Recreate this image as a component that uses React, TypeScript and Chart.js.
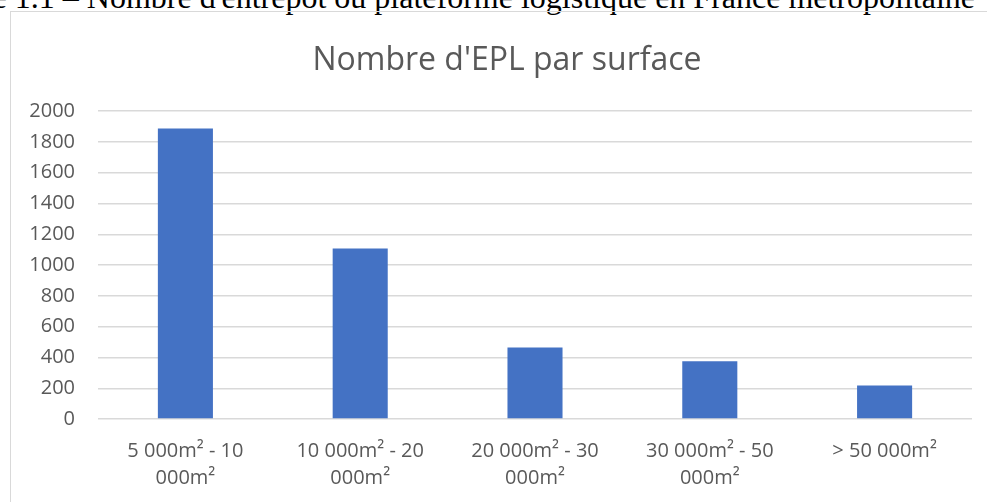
import React, { useEffect, useRef } from "react";
import { Chart, registerables } from "chart.js";

Chart.register(...registerables);

const chartTitle = "Nombre d'EPL par surface";
const caption = "Figure 1.1 – Nombre d'entrepôt ou plateforme logistique en France métropolitaine";
const categories: string[][] = [
  ["5 000m² - 10", "000m²"],
  ["10 000m² - 20", "000m²"],
  ["20 000m² - 30", "000m²"],
  ["30 000m² - 50", "000m²"],
  ["> 50 000m²"],
];
const values: number[] = [1886, 1107, 464, 375, 217];
const yMin = 0;
const yMax = 2000;
const yStep = 200;

const TEXT = "#595959";
const GRID = "#d9d9d9";
const BAR = "#4472C4";
const FONT = "'Open Sans', sans-serif";

const titlePlugin = {
  id: "boxTitle",
  afterDraw(chart: any) {
    const ctx = chart.ctx;
    ctx.save();
    ctx.font = `normal 32px ${FONT}`;
    ctx.fillStyle = TEXT;
    ctx.textAlign = "center";
    ctx.textBaseline = "middle";
    ctx.fillText(chartTitle, 496, 47.6);
    ctx.restore();
  },
};

export default function App() {
  const ref = useRef<HTMLCanvasElement | null>(null);

  useEffect(() => {
    if (!ref.current) return;
    const chart = new Chart(ref.current, {
      type: "bar",
      data: {
        labels: categories,
        datasets: [
          {
            data: values,
            backgroundColor: BAR,
            borderWidth: 0,
            barPercentage: 0.315,
            categoryPercentage: 1,
          },
        ],
      },
      plugins: [titlePlugin],
      options: {
        animation: false,
        responsive: false,
        maintainAspectRatio: false,
        layout: { padding: { left: 0, right: 15, top: 98, bottom: 0 } },
        plugins: {
          legend: { display: false },
          tooltip: { enabled: false },
          title: { display: false },
        },
        scales: {
          x: {
            grid: { display: false, drawTicks: false },
            border: { display: false },
            ticks: {
              color: TEXT,
              font: { family: FONT, size: 20, lineHeight: 1.38 },
              padding: 18,
              maxRotation: 0,
              autoSkip: false,
            },
            afterFit: (s: any) => {
              s.height = 83;
            },
          },
          y: {
            min: yMin,
            max: yMax,
            grid: { color: GRID, lineWidth: 1.4, drawTicks: false },
            border: { display: false },
            ticks: {
              stepSize: yStep,
              color: TEXT,
              font: { family: FONT, size: 20 },
              padding: 23,
              callback: (v: any) => String(v),
            },
            afterFit: (s: any) => {
              s.width = 87;
            },
          },
        },
      },
    });
    return () => chart.destroy();
  }, []);

  return (
    <div
      style={{
        position: "fixed",
        left: 0,
        top: 0,
        width: 987,
        height: 502,
        overflow: "hidden",
        background: "#fff",
      }}
    >
      <div
        style={{
          position: "absolute",
          right: 12,
          top: -19.5,
          whiteSpace: "nowrap",
          fontFamily: "'Liberation Serif', 'Times New Roman', serif",
          fontSize: 32,
          lineHeight: "32px",
          color: "#000",
        }}
      >
        {caption}
      </div>
      <div
        style={{
          position: "absolute",
          left: 10,
          top: 11,
          width: 1000,
          height: 520,
          border: `1.5px solid ${GRID}`,
          boxSizing: "border-box",
        }}
      />
      <canvas
        ref={ref}
        width={976}
        height={489}
        style={{ position: "absolute", left: 11, top: 13, width: 976, height: 489 }}
      />
    </div>
  );
}
